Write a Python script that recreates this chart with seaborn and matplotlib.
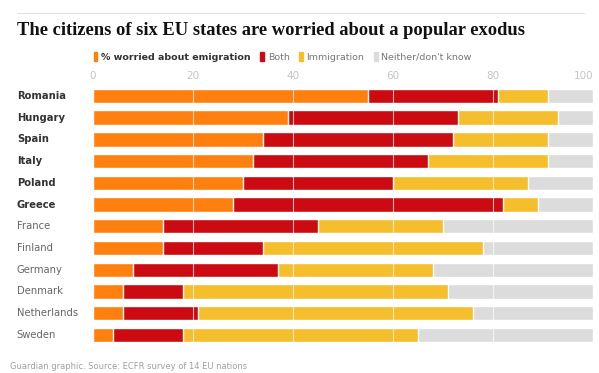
import matplotlib
matplotlib.use("Agg")
import matplotlib.pyplot as plt
from matplotlib.patches import Patch
from matplotlib.lines import Line2D
import pandas as pd
import seaborn as sns

countries = ["Romania", "Hungary", "Spain", "Italy", "Poland", "Greece",
             "France", "Finland", "Germany", "Denmark", "Netherlands", "Sweden"]
emigration = [55, 39, 34, 32, 30, 28, 14, 14, 8, 6, 6, 4]
both = [26, 34, 38, 35, 30, 54, 31, 20, 29, 12, 15, 14]
immigration = [10, 20, 19, 24, 27, 7, 25, 44, 31, 53, 55, 47]
neither = [9, 7, 9, 9, 13, 11, 30, 22, 32, 29, 24, 35]
bold_countries = ["Romania", "Hungary", "Spain", "Italy", "Poland", "Greece"]
ticks = [0, 20, 40, 60, 80, 100]

series = ["% worried about emigration", "Both", "Immigration", "Neither/don't know"]
colors = ["#ff7f0f", "#cc0a11", "#f5be2c", "#dcdcdc"]

df = pd.DataFrame({"country": countries, "emig": emigration, "both": both,
                   "imm": immigration, "neither": neither})
cum = df[["emig", "both", "imm", "neither"]].cumsum(axis=1)

sns.set_style("white")
fig = plt.figure(figsize=(5.99, 3.73), dpi=100)
ax = fig.add_axes([0.155, 0.073, 0.835, 0.699])

# stacked bars: draw cumulative totals from the widest down
for col, c in zip(["neither", "imm", "both", "emig"], colors[::-1]):
    sns.barplot(x=cum[col], y=df["country"], orient="h", color=c,
                width=0.66, ax=ax, saturation=1)

ax.set_xlim(0, 100)
ax.set_ylim(11.5, -0.5)
ax.xaxis.tick_top()
ax.set_xticks(ticks)
ax.tick_params(axis="x", length=0, labelsize=7.5, labelcolor="#c4c4c4", pad=3)
ax.get_xticklabels()[-1].set_horizontalalignment("right")
ax.tick_params(axis="y", length=0)
ax.set_yticklabels([])
ax.set_xlabel("")
ax.set_ylabel("")
for s in ax.spines.values():
    s.set_visible(False)
for v in ticks[1:-1]:
    ax.axvline(v, color="white", lw=0.8, alpha=0.7, zorder=5)

for i, name in enumerate(countries):
    isb = name in bold_countries
    ax.text(-15.2, i, name, ha="left", va="center", fontsize=7.2,
            fontweight="bold" if isb else "normal",
            color="#333333" if isb else "#666666")

fig.text(0.028, 0.918, "The citizens of six EU states are worried about a popular exodus",
         fontsize=13.3, fontweight="bold", family="Liberation Serif", color="#111111",
         va="center")
fig.add_artist(Line2D([0.028, 0.975], [0.965, 0.965], color="#e2e2e2", lw=0.8))

handles = [Patch(color=c) for c in colors]
leg = fig.legend(handles, series, loc="center left", bbox_to_anchor=(0.142, 0.847),
                 ncol=4, frameon=False, fontsize=6.8, handlelength=0.4,
                 handleheight=1.0, handletextpad=0.4, columnspacing=1.0)
for i, t in enumerate(leg.get_texts()):
    if i == 0:
        t.set_fontweight("bold")
        t.set_color("#333333")
    else:
        t.set_color("#777777")

fig.text(0.017, 0.018, "Guardian graphic. Source: ECFR survey of 14 EU nations",
         fontsize=6, color="#a0a0a0", va="center")

fig.savefig("out.png", dpi=100, facecolor="white")
